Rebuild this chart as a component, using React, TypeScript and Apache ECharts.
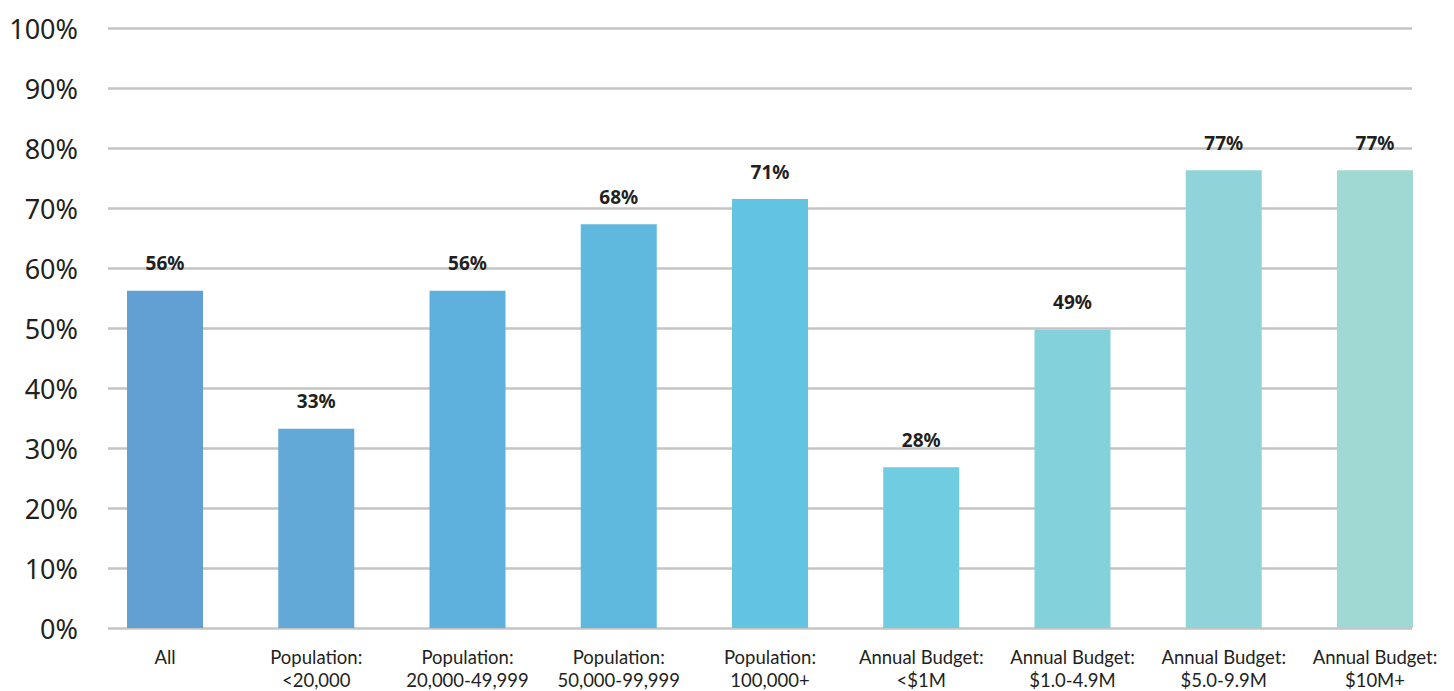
import React, { useEffect, useRef } from "react";
import * as echarts from "echarts";

const categories = [
  "All",
  "Population:\n<20,000",
  "Population:\n20,000-49,999",
  "Population:\n50,000-99,999",
  "Population:\n100,000+",
  "Annual Budget:\n<$1M",
  "Annual Budget:\n$1.0-4.9M",
  "Annual Budget:\n$5.0-9.9M",
  "Annual Budget:\n$10M+",
];
const values = [56.2, 33.2, 56.2, 67.3, 71.5, 26.8, 49.7, 76.3, 76.3];
const valueLabels = ["56%", "33%", "56%", "68%", "71%", "28%", "49%", "77%", "77%"];
const barColors = [
  "#629fd2",
  "#62a9d8",
  "#5fb1dd",
  "#5fb9df",
  "#62c4e0",
  "#70cce0",
  "#83d1da",
  "#90d4d9",
  "#a0d8d3",
];
const yTicks = [0, 10, 20, 30, 40, 50, 60, 70, 80, 90, 100];

export default function App() {
  const ref = useRef<HTMLDivElement>(null);
  useEffect(() => {
    if (!ref.current) return;
    const chart = echarts.init(ref.current, null, { renderer: "svg" });
    const top = 28;
    const bottom = 691 - 628;
    chart.setOption({
      animation: false,
      grid: [
        { left: 108, right: 42, top, bottom, outerBoundsMode: "none", containLabel: false },
        { left: 89.4, right: 3.4, top, bottom, outerBoundsMode: "none", containLabel: false },
      ],
      xAxis: [
        { type: "category", gridIndex: 0, data: categories, show: false },
        {
          type: "category",
          gridIndex: 1,
          data: categories,
          axisLine: { show: false },
          axisTick: { show: false },
          axisLabel: {
            interval: 0,
            margin: 17,
            fontFamily: "Lato",
            fontSize: 18.5,
            lineHeight: 23,
            color: "#231f20",
          },
        },
      ],
      yAxis: [
        {
          type: "value",
          gridIndex: 0,
          min: 0,
          max: 100,
          interval: 10,
          axisLine: { show: false },
          axisTick: { show: false },
          axisLabel: {
            formatter: (v: number) => (yTicks.includes(v) ? v + "%" : ""),
            margin: 30,
            fontFamily: "Noto Sans",
            fontSize: 27,
            color: "#231f20",
          },
          splitLine: { lineStyle: { color: "#c4c4c4", width: 2.5 } },
        },
        {
          type: "value",
          gridIndex: 1,
          min: 0,
          max: 100,
          interval: 10,
          show: false,
          splitLine: { show: false },
        },
      ],
      series: [
        {
          type: "bar",
          xAxisIndex: 1,
          yAxisIndex: 1,
          barWidth: 76,
          data: values.map((v, i) => ({
            value: v,
            itemStyle: { color: barColors[i] },
          })),
          label: {
            show: true,
            position: "top",
            distance: 18,
            formatter: (p: any) => valueLabels[p.dataIndex],
            fontFamily: "Noto Sans",
            fontWeight: "bold",
            fontSize: 19,
            color: "#231f20",
          },
        },
      ],
    });
    return () => chart.dispose();
  }, []);
  return <div ref={ref} style={{ width: 1454, height: 691, position: "absolute", left: 0, top: 0 }} />;
}
